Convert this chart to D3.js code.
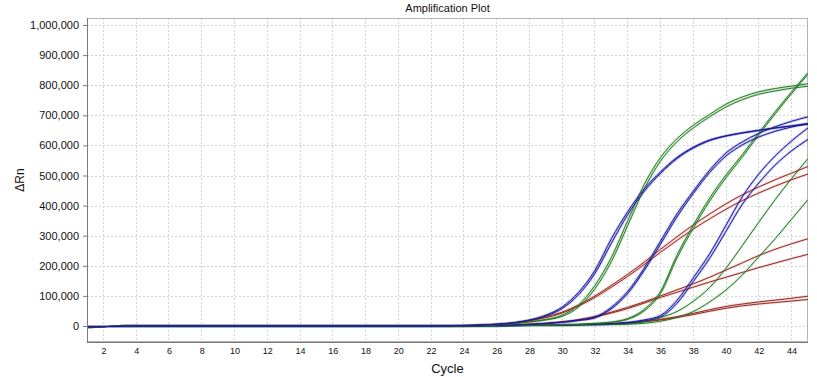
<!DOCTYPE html>
<html>
<head>
<meta charset="utf-8">
<script src="https://cdn.jsdelivr.net/npm/d3@7"></script>
<style>
  html, body { margin: 0; padding: 0; background: #fff; }
  svg { display: block; }
  text { font-family: Arial, "Liberation Sans", sans-serif; fill: #111; }
</style>
</head>
<body>
<svg id="chart" width="817" height="377"></svg>
<script>
// ---- Data (ΔRn, thousands) for cycles 1..45 ----
const cycles = d3.range(1, 46);
const xTicks = [2,4,6,8,10,12,14,16,18,20,22,24,26,28,30,32,34,36,38,40,42,44];
const yTicks = [0,100000,200000,300000,400000,500000,600000,700000,800000,900000,1000000];

const blueA1 = [-3,-2,-1,0,0,0,0,0,0,0,0,0,0,0,0,0,0,0,0,0,0,0, 0.5,1.5,3,6,11,20,36,63,112,185,290,380,455,512,560,594,618,632,642,650,658,664,670];
const blueA2 = [-3,-2,-1,0,0,0,0,0,0,0,0,0,0,0,0,0,0,0,0,0,0,0, 0.5,1.5,3,5.5,10,19,33,58,104,175,275,370,447,507,556,591,616,631,641,650,658,665,673];
const greenA1 = [-3,-2,-1,0,0,0,0,0,0,0,0,0,0,0,0,0,0,0,0,0,0,0, 0.3,1,2,4,8,14,22,36,70,135,228,350,470,560,622,667,703,737,761,778,789,797,805];
const greenA2 = [-3,-2,-1,0,0,0,0,0,0,0,0,0,0,0,0,0,0,0,0,0,0,0, 0.3,1,2,4,7,13,20,32,63,124,214,334,455,548,612,658,695,728,752,770,781,790,797];
const blueB1 = [-3,-2,-1,0,0,0,0,0,0,0,0,0,0,0,0,0,0,0,0,0,0,0, 0,0.5,1,2,3,5,8,13,20,30,62,115,192,282,372,448,518,575,612,640,662,680,695];
const blueB2 = [-3,-2,-1,0,0,0,0,0,0,0,0,0,0,0,0,0,0,0,0,0,0,0, 0,0.5,1,2,3,5,8,12,18,27,57,108,184,272,362,440,510,565,602,628,647,661,672];
const greenB1 = [-3,-2,-1,0,0,0,0,0,0,0,0,0,0,0,0,0,0,0,0,0,0,0, 0,0,0.5,1,1.5,2,3,4,6,9,13,25,55,115,235,335,425,502,570,642,712,778,842];
const greenB2 = [-3,-2,-1,0,0,0,0,0,0,0,0,0,0,0,0,0,0,0,0,0,0,0, 0,0,0.5,1,1.5,2,3,4,5,8,12,22,50,108,225,325,415,493,562,635,705,772,836];
const blueC1 = [-3,-2,-1,0,0,0,0,0,0,0,0,0,0,0,0,0,0,0,0,0,0,0, 0,0,0,0.5,1,1.5,2,3,4,6,8,12,20,35,85,160,240,335,430,505,565,615,658];
const blueC2 = [-3,-2,-1,0,0,0,0,0,0,0,0,0,0,0,0,0,0,0,0,0,0,0, 0,0,0,0.5,1,1.5,2,3,4,5,7,10,17,30,75,148,225,315,405,475,535,582,620];
const redA1 = [-3,-2,-1,0,0,0,0,0,0,0,0,0,0,0,0,0,0,0,0,0,0,0, 1,2,3.5,6,10,18,30,46,70,100,135,172,212,255,296,336,372,406,436,462,486,508,530];
const redA2 = [-3,-2,-1,0,0,0,0,0,0,0,0,0,0,0,0,0,0,0,0,0,0,0, 1,2,3.5,6,10,17,28,43,66,95,129,165,204,245,284,322,356,388,417,442,465,486,505];
const greenC = [-3,-2,-1,0,0,0,0,0,0,0,0,0,0,0,0,0,0,0,0,0,0,0, 0,0,0,0.5,1,1.5,2,2.5,3,4,5,7,14,28,48,82,128,192,268,345,420,490,556];
const greenD = [-3,-2,-1,0,0,0,0,0,0,0,0,0,0,0,0,0,0,0,0,0,0,0, 0,0,0,0.5,1,1.5,2,2.5,3,4,5,6,9,16,28,48,80,120,170,230,290,355,420];
const redB1 = [-3,-2,-1,0,0,0,0,0,0,0,0,0,0,0,0,0,0,0,0,0,0,0, 0.5,1,2,3,4,6,9,14,21,32,46,62,80,100,120,140,162,186,210,234,255,273,290];
const redB2 = [-3,-2,-1,0,0,0,0,0,0,0,0,0,0,0,0,0,0,0,0,0,0,0, 0.5,1,2,3,4,6,9,13,20,30,43,58,76,95,112,129,146,162,178,194,209,224,238];
const redC1 = [-3,-2,-1,0,0,0,0,0,0,0,0,0,0,0,0,0,0,0,0,0,0,0, 0.2,0.5,0.8,1,1.5,2,3,4,5,6,8,11,15,22,31,42,54,65,73,80,86,92,99];
const redC2 = [-3,-2,-1,0,0,0,0,0,0,0,0,0,0,0,0,0,0,0,0,0,0,0, 0.2,0.5,0.8,1,1.5,2,3,4,5,6,8,10,14,20,28,38,49,59,67,73,78,83,88];

const series = [
  {name: "redC1", values: redC1, color: "red"},
  {name: "redC2", values: redC2, color: "red"},
  {name: "redB1", values: redB1, color: "red"},
  {name: "redB2", values: redB2, color: "red"},
  {name: "greenD", values: greenD, color: "green"},
  {name: "greenC", values: greenC, color: "green"},
  {name: "redA1", values: redA1, color: "red"},
  {name: "redA2", values: redA2, color: "red"},
  {name: "blueC1", values: blueC1, color: "blue"},
  {name: "blueC2", values: blueC2, color: "blue"},
  {name: "greenB1", values: greenB1, color: "green"},
  {name: "greenB2", values: greenB2, color: "green"},
  {name: "blueB1", values: blueB1, color: "blue"},
  {name: "blueB2", values: blueB2, color: "blue"},
  {name: "greenA1", values: greenA1, color: "green"},
  {name: "greenA2", values: greenA2, color: "green"},
  {name: "blueA1", values: blueA1, color: "blue"},
  {name: "blueA2", values: blueA2, color: "blue"}
];

const palette = {
  blue:  {core: "#1c1c8c", halo: "#8c8cf0"},
  green: {core: "#2a742a", halo: "#a6dca6"},
  red:   {core: "#8a2e24", halo: "#f4a8a8"}
};

// ---- Layout ----
const W = 817, H = 377;
const margin = {left: 87, right: 9, top: 18, bottom: 35};
const svg = d3.select("#chart");

const x = d3.scaleLinear().domain([1, 45]).range([margin.left, W - margin.right]);
const y = d3.scaleLinear().domain([-53200, 1023300]).range([H - margin.bottom, margin.top]);

// Grid
const grid = svg.append("g");
grid.selectAll("line.v").data(xTicks).join("line")
  .attr("x1", d => x(d)).attr("x2", d => x(d))
  .attr("y1", margin.top).attr("y2", H - margin.bottom)
  .attr("stroke", "#d4d4d4").attr("stroke-dasharray", "2,2").attr("stroke-width", 1)
  .attr("shape-rendering", "crispEdges");
grid.selectAll("line.h").data(yTicks).join("line")
  .attr("x1", margin.left).attr("x2", W - margin.right)
  .attr("y1", d => Math.round(y(d)) + 0.5).attr("y2", d => Math.round(y(d)) + 0.5)
  .attr("stroke", "#d4d4d4").attr("stroke-dasharray", "2,2").attr("stroke-width", 1);

// Frame (top/right)
svg.append("rect")
  .attr("x", margin.left + 0.5).attr("y", margin.top + 0.5)
  .attr("width", W - margin.right - margin.left - 1).attr("height", H - margin.bottom - margin.top - 1)
  .attr("fill", "none").attr("stroke", "#b4b4b4");

// Curves
svg.append("clipPath").attr("id", "clip").append("rect")
  .attr("x", margin.left).attr("y", margin.top)
  .attr("width", W - margin.right - margin.left).attr("height", H - margin.bottom - margin.top);

const line = d3.line()
  .x((d, i) => x(cycles[i]))
  .y(d => y(d * 1000))
  .curve(d3.curveMonotoneX);

const curves = svg.append("g").attr("clip-path", "url(#clip)");
curves.selectAll("path.halo").data(series).join("path")
  .attr("class", "halo")
  .attr("d", d => line(d.values))
  .attr("fill", "none")
  .attr("stroke", d => palette[d.color].halo)
  .attr("stroke-opacity", 0.5)
  .attr("stroke-width", 2.6);
curves.selectAll("path.core").data(series).join("path")
  .attr("class", "core")
  .attr("d", d => line(d.values))
  .attr("fill", "none")
  .attr("stroke", d => palette[d.color].core)
  .attr("stroke-width", 1);

// Axes
const yAxis = d3.axisLeft(y).tickValues(yTicks).tickFormat(d3.format(",")).tickSize(4).tickPadding(4);
const gy = svg.append("g").attr("transform", `translate(${margin.left},0)`).call(yAxis);
gy.select(".domain").attr("stroke", "#7a7a7a").attr("d", `M0.5,${margin.top}V${H - margin.bottom}`);
gy.selectAll(".tick line").attr("stroke", "#7a7a7a");
gy.selectAll(".tick text").style("font-size", "11px").attr("fill", "#111")
  .style("font-family", "Arial, 'Liberation Sans', sans-serif");

const xAxis = d3.axisBottom(x).tickValues(xTicks).tickFormat(d3.format("d")).tickSize(0).tickPadding(6);
const gx = svg.append("g").attr("transform", `translate(0,${H - margin.bottom})`).call(xAxis);
gx.select(".domain").attr("stroke", "#7a7a7a").attr("d", `M${margin.left},0.5H${W - margin.right}`);
gx.selectAll(".tick text").style("font-size", "9px").attr("fill", "#222")
  .style("font-family", "Arial, 'Liberation Sans', sans-serif");

// Titles
svg.append("text").attr("x", (margin.left + W - margin.right) / 2).attr("y", 12)
  .attr("text-anchor", "middle").style("font-size", "11px").text("Amplification Plot");
svg.append("text").attr("x", (margin.left + W - margin.right) / 2).attr("y", 373)
  .attr("text-anchor", "middle").style("font-size", "13px").text("Cycle");
svg.append("text").attr("transform", `translate(24,${(margin.top + H - margin.bottom) / 2}) rotate(-90)`)
  .attr("text-anchor", "middle").style("font-size", "12px").text("ΔRn");
</script>
</body>
</html>
